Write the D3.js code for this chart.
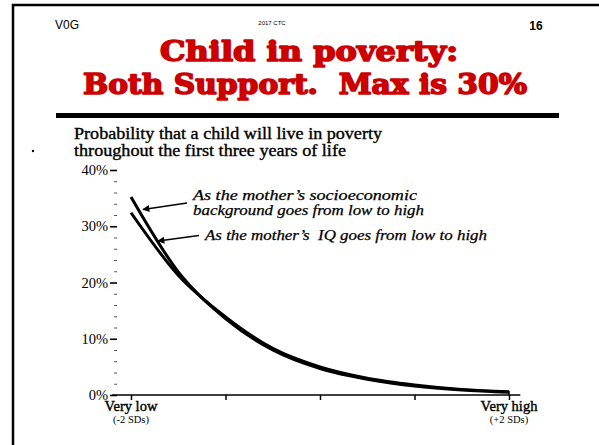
<!DOCTYPE html>
<meta charset="utf-8">
<style>
body { margin: 0; background: white; }
svg { display: block; }
.tick text { font-family: "Liberation Serif", "Times New Roman", serif; font-size: 14.5px; fill: #000; }
</style>
<body>
<svg width="599" height="445"></svg>
<script src="https://cdn.jsdelivr.net/npm/d3@7"></script>
<script>

// values (percent of children in poverty)
var sdPoints = [-2, -1.5, -1, -0.5, 0, 0.5, 1, 1.5, 2];
var sesValues = [35.2, 21.9, 13.6, 8.0, 4.7, 2.8, 1.6, 0.9, 0.5];
var iqValues  = [32.4, 21.3, 13.9, 8.3, 5.0, 3.0, 1.8, 1.0, 0.6];
var yMajor = [0, 10, 20, 30, 40];
var yMinor = [2, 4, 6, 8, 12, 14, 16, 18, 22, 24, 26, 28, 32, 34, 36, 38];
var xTicks = [-2, -1, 0, 1, 2];

var svg = d3.select("svg");

svg.append("rect").attr("width", 599).attr("height", 445).attr("fill", "white");

// slide frame (only top and left edges are in view)
svg.append("path")
  .attr("d", "M13,445 V5 H599")
  .attr("fill", "none").attr("stroke", "#000").attr("stroke-width", 2.5);

// header
svg.append("text").attr("x", 55).attr("y", 29).text("V0G")
  .style("font-family", "Liberation Sans, Arial, sans-serif").style("font-size", "12px");
svg.append("text").attr("x", 272).attr("y", 25).attr("text-anchor", "middle").text("2017 CTC")
  .style("font-family", "Liberation Sans, Arial, sans-serif").style("font-size", "6px");
svg.append("text").attr("x", 536).attr("y", 30).attr("text-anchor", "middle").text("16")
  .style("font-family", "Liberation Sans, Arial, sans-serif").style("font-size", "12px").style("font-weight", "bold");

// title
var titleLines = [
  { t: "Child in poverty:", x: 160, y: 61, w: 298 },
  { t: "Both Support.\u00a0 Max is 30%", x: 83, y: 94, w: 444 }
];
svg.selectAll(".title").data(titleLines).enter().append("text")
  .attr("class", "title")
  .attr("x", function(d) { return d.x; })
  .attr("y", function(d) { return d.y; })
  .attr("textLength", function(d) { return d.w; })
  .attr("lengthAdjust", "spacingAndGlyphs")
  .text(function(d) { return d.t; })
  .style("font-family", "DejaVu Serif, serif")
  .style("font-weight", "bold")
  .style("font-size", "27px")
  .style("fill", "#cc0000")
  .style("stroke", "#cc0000")
  .style("stroke-width", 1.6)
  .style("stroke-linejoin", "round");

svg.append("rect").attr("x", 56).attr("y", 113).attr("width", 503).attr("height", 5).attr("fill", "#000");

svg.append("circle").attr("cx", 33).attr("cy", 151).attr("r", 1.2).attr("fill", "#000");

// chart subtitle
var sub = [
  { t: "Probability that a child will live in poverty", w: 308 },
  { t: "throughout the first three years of life", w: 272 }
];
svg.selectAll(".sub").data(sub).enter().append("text")
  .attr("class", "sub")
  .attr("x", 74)
  .attr("y", function(d, i) { return 139 + i * 17; })
  .attr("textLength", function(d) { return d.w; })
  .attr("lengthAdjust", "spacingAndGlyphs")
  .text(function(d) { return d.t; })
  .style("font-family", "Liberation Serif, Times New Roman, serif")
  .style("font-size", "16px")
  .style("stroke", "#000")
  .style("stroke-width", 0.35);

// scales
var x = d3.scaleLinear().domain([-2, 2]).range([131, 509]);
var y = d3.scaleLinear().domain([0, 40]).range([395, 170]);

// y axis
var yAxis = svg.append("g").attr("transform", "translate(117,0)")
  .call(d3.axisLeft(y).tickValues(yMajor).tickSize(7).tickPadding(2)
    .tickFormat(function(d) { return d + "%"; }));
yAxis.select(".domain").remove();
yAxis.selectAll(".tick line").attr("stroke-width", 1.6);

var yMin = svg.append("g").attr("transform", "translate(117,0)")
  .call(d3.axisLeft(y).tickValues(yMinor).tickSize(3).tickFormat(""));
yMin.select(".domain").remove();
yMin.selectAll(".tick line").attr("stroke", "#555");

// x axis
var xAxis = svg.append("g").attr("transform", "translate(0," + y(0) + ")")
  .call(d3.axisBottom(x).tickValues(xTicks).tickSize(5).tickFormat(""));
xAxis.select(".domain").remove();
xAxis.selectAll(".tick line").attr("stroke-width", 1.5);

svg.append("line")
  .attr("x1", x(-2.2)).attr("x2", x(2.12))
  .attr("y1", y(0)).attr("y2", y(0))
  .attr("stroke", "#000").attr("stroke-width", 1.6);
svg.append("line")
  .attr("x1", x(2)).attr("x2", x(2))
  .attr("y1", y(0) - 4).attr("y2", y(0))
  .attr("stroke", "#000").attr("stroke-width", 1.5);

var xLabels = [
  { v: -2, a: "Very low", b: "(-2 SDs)" },
  { v: 2, a: "Very high", b: "(+2 SDs)" }
];
xLabels.forEach(function(d) {
  svg.append("text").attr("x", x(d.v)).attr("y", 411).attr("text-anchor", "middle").text(d.a)
    .style("font-family", "Liberation Serif, Times New Roman, serif").style("font-size", "14.5px")
    .style("stroke", "#000").style("stroke-width", 0.4);
  svg.append("text").attr("x", x(d.v)).attr("y", 423).attr("text-anchor", "middle").text(d.b)
    .style("font-family", "Liberation Serif, Times New Roman, serif").style("font-size", "10.5px");
});

// curves
var line = d3.line()
  .x(function(d, i) { return x(sdPoints[i]); })
  .y(function(d) { return y(d); })
  .curve(d3.curveMonotoneX);

[sesValues, iqValues].forEach(function(s) {
  svg.append("path").datum(s)
    .attr("d", line)
    .attr("fill", "none")
    .attr("stroke", "#000")
    .attr("stroke-width", 3);
});

// annotations
svg.append("defs").append("marker")
  .attr("id", "arr").attr("viewBox", "0 0 10 10").attr("refX", 9).attr("refY", 5)
  .attr("markerWidth", 9).attr("markerHeight", 7).attr("markerUnits", "userSpaceOnUse")
  .attr("orient", "auto")
  .append("path").attr("d", "M0,0 L10,5 L0,10 z").attr("fill", "#000");

var notes = [
  { t: "As the mother\u2019s socioeconomic", x: 193, y: 200, w: 224 },
  { t: "background goes from low to high", x: 193, y: 215, w: 231 },
  { t: "As the mother\u2019s  IQ goes from low to high", x: 205, y: 240, w: 282 }
];
svg.selectAll(".note").data(notes).enter().append("text")
  .attr("class", "note")
  .attr("x", function(d) { return d.x; })
  .attr("y", function(d) { return d.y; })
  .attr("textLength", function(d) { return d.w; })
  .attr("lengthAdjust", "spacingAndGlyphs")
  .style("white-space", "pre")
  .text(function(d) { return d.t; })
  .style("font-family", "'Liberation Serif', 'DejaVu Serif', serif")
  .style("font-style", "italic")
  .style("font-size", "14px")
  .style("stroke", "#000")
  .style("stroke-width", 0.25);

svg.append("line").attr("x1", 187).attr("y1", 203).attr("x2", 143).attr("y2", 209.5)
  .attr("stroke", "#000").attr("stroke-width", 1.3).attr("marker-end", "url(#arr)");
svg.append("line").attr("x1", 199).attr("y1", 235.5).attr("x2", 158).attr("y2", 241)
  .attr("stroke", "#000").attr("stroke-width", 1.3).attr("marker-end", "url(#arr)");

</script>
</body>
